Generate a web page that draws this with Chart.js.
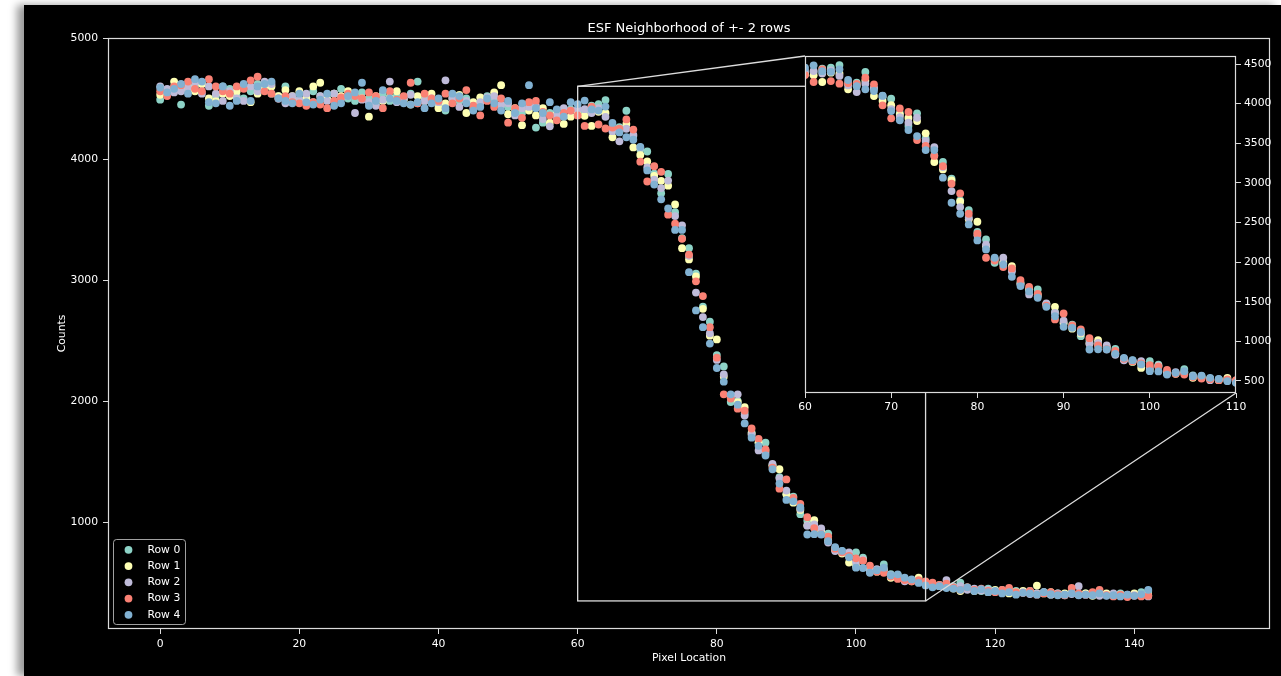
<!DOCTYPE html>
<html>
<head>
<meta charset="utf-8">
<title>ESF Neighborhood</title>
<script src="https://cdn.jsdelivr.net/npm/chart.js@4.4.1/dist/chart.umd.min.js"></script>
<style>
  html, body { margin: 0; padding: 0; background: #fff; overflow: hidden; }
  #main { position: absolute; left: 24px; top: 5px; background: #000; box-shadow: -7px 0 8px rgba(0, 0, 0, 0.4); }
  #inset { position: absolute; left: 780px; top: 46px; }
</style>
</head>
<body>
<canvas id="main" width="1257" height="671"></canvas>
<canvas id="inset" width="500" height="376"></canvas>
<script>
// pixel index along the edge
const pixelLocation = [
  0, 1, 2, 3, 4, 5, 6, 7, 8, 9, 10, 11, 12, 13, 14, 15, 16, 17, 18, 19,
  20, 21, 22, 23, 24, 25, 26, 27, 28, 29, 30, 31, 32, 33, 34, 35, 36, 37, 38, 39,
  40, 41, 42, 43, 44, 45, 46, 47, 48, 49, 50, 51, 52, 53, 54, 55, 56, 57, 58, 59,
  60, 61, 62, 63, 64, 65, 66, 67, 68, 69, 70, 71, 72, 73, 74, 75, 76, 77, 78, 79,
  80, 81, 82, 83, 84, 85, 86, 87, 88, 89, 90, 91, 92, 93, 94, 95, 96, 97, 98, 99,
  100, 101, 102, 103, 104, 105, 106, 107, 108, 109, 110, 111, 112, 113, 114, 115, 116, 117, 118, 119,
  120, 121, 122, 123, 124, 125, 126, 127, 128, 129, 130, 131, 132, 133, 134, 135, 136, 137, 138, 139,
  140, 141, 142
];

// counts per row
const row0 = [
  4490, 4560, 4600, 4450, 4560, 4600, 4620, 4440, 4520, 4600,
  4580, 4520, 4500, 4560, 4620, 4580, 4540, 4520, 4600, 4500,
  4480, 4510, 4560, 4520, 4500, 4540, 4580, 4500, 4480, 4550,
  4500, 4450, 4540, 4480, 4520, 4490, 4540, 4640, 4510, 4470,
  4440, 4400, 4520, 4480, 4500, 4450, 4470, 4520, 4490, 4440,
  4430, 4400, 4380, 4460, 4260, 4300, 4380, 4330, 4360, 4410,
  4380, 4400, 4440, 4454, 4487, 4250, 4264, 4399, 4190, 4080,
  4062, 3880, 3717, 3877, 3560, 3345, 3263, 3052, 2780, 2656,
  2380, 2286, 1991, 2000, 1900, 1740, 1650, 1655, 1470, 1370,
  1230, 1210, 1065, 1010, 950, 930, 905, 780, 760, 720,
  750, 705, 610, 600, 650, 570, 560, 530, 520, 520,
  490, 470, 480, 460, 470, 500, 450, 440, 430, 450,
  430, 440, 420, 430, 415, 430, 410, 420, 400, 410,
  395, 420, 400, 410, 395, 405, 400, 390, 410, 395,
  400, 420, 430
];
const row1 = [
  4530, 4560, 4640, 4580, 4600, 4560, 4620, 4500, 4480, 4540,
  4520, 4560, 4600, 4470, 4540, 4580, 4600, 4520, 4570, 4520,
  4560, 4500, 4600, 4630, 4490, 4540, 4520, 4560, 4540, 4500,
  4350, 4520, 4480, 4510, 4560, 4490, 4450, 4520, 4480, 4540,
  4420, 4460, 4500, 4530, 4380, 4470, 4510, 4490, 4550, 4610,
  4370, 4420, 4280, 4400, 4360, 4420, 4300, 4380, 4290, 4350,
  4370, 4357, 4273, 4390, 4380, 4180, 4230, 4290, 4096, 4033,
  3980, 3860, 3820, 3780, 3625, 3263, 3170, 3030, 2762, 2540,
  2509, 2200, 2040, 1990, 1949, 1730, 1660, 1590, 1470, 1436,
  1230, 1160, 1100, 973, 1015, 920, 850, 770, 740, 665,
  640, 690, 600, 590, 610, 539, 540, 530, 510, 540,
  500, 490, 470, 480, 450, 430, 460, 430, 440, 420,
  440, 430, 410, 420, 430, 420, 475, 410, 420, 400,
  410, 415, 400, 410, 390, 400, 410, 395, 400, 390,
  410, 400, 395
];
const row2 = [
  4600, 4580, 4550, 4560, 4590, 4630, 4540, 4600, 4540, 4480,
  4560, 4500, 4480, 4600, 4560, 4640, 4620, 4500, 4460, 4520,
  4490, 4540, 4470, 4520, 4480, 4540, 4500, 4520, 4380, 4490,
  4470, 4440, 4490, 4640, 4470, 4500, 4530, 4460, 4480, 4500,
  4470, 4650, 4500, 4430, 4480, 4420, 4470, 4510, 4520, 4450,
  4460, 4360, 4420, 4430, 4440, 4330, 4270, 4360, 4420, 4400,
  4412, 4412, 4380, 4420, 4349, 4230, 4146, 4250, 4200, 4096,
  3930, 3830, 3760, 3822, 3528, 3452, 3200, 2896, 2694, 2560,
  2340, 2220, 2030, 2055, 1880, 1720, 1592, 1570, 1480, 1360,
  1260, 1180, 1110, 970, 980, 948, 830, 760, 750, 750,
  670, 690, 590, 610, 600, 560, 550, 510, 520, 510,
  490, 480, 470, 520, 460, 470, 440, 450, 435, 440,
  425, 420, 440, 410, 420, 405, 410, 420, 400, 410,
  400, 405, 470, 400, 405, 390, 395, 410, 390, 400,
  395, 390, 385
];
const row3 = [
  4560, 4520, 4600, 4610, 4640, 4580, 4560, 4660, 4600, 4560,
  4540, 4600, 4580, 4650, 4680, 4560, 4540, 4500, 4520, 4470,
  4460, 4440, 4470, 4450, 4420, 4480, 4510, 4540, 4520, 4500,
  4550, 4520, 4420, 4560, 4490, 4520, 4630, 4460, 4540, 4500,
  4480, 4540, 4460, 4500, 4570, 4440, 4360, 4480, 4430, 4500,
  4300, 4420, 4340, 4470, 4480, 4390, 4360, 4320, 4380, 4400,
  4360, 4273, 4433, 4285, 4252, 4260, 4250, 4327, 4243, 3978,
  3814, 3940, 3894, 3540, 3465, 3340, 3210, 2989, 2867, 2610,
  2358, 2055, 2020, 1937, 1920, 1773, 1688, 1600, 1450, 1276,
  1352, 1200, 1150, 1040, 950, 900, 880, 780, 750, 720,
  700, 680, 640, 590, 580, 550, 530, 520, 510, 520,
  510, 500, 480, 490, 460, 440, 460, 440, 450, 430,
  420, 440, 455, 420, 415, 430, 400, 410, 420, 405,
  395, 455, 410, 400, 420, 440, 395, 385, 400, 380,
  390, 385, 390
];
const row4 = [
  4590, 4550, 4580, 4620, 4540, 4660, 4640, 4470, 4460, 4600,
  4440, 4480, 4620, 4480, 4600, 4620, 4640, 4500, 4480, 4460,
  4540, 4470, 4450, 4490, 4540, 4440, 4460, 4520, 4550, 4630,
  4440, 4480, 4570, 4500, 4480, 4460, 4450, 4470, 4420, 4460,
  4500, 4420, 4540, 4520, 4460, 4400, 4430, 4500, 4460, 4400,
  4480, 4380, 4460, 4610, 4420, 4380, 4470, 4410, 4350, 4470,
  4454, 4483, 4410, 4400, 4433, 4298, 4220, 4180, 4159, 4100,
  3906, 3789, 3667, 3591, 3414, 3414, 3065, 2749, 2610, 2475,
  2273, 2160, 2055, 1970, 1815, 1697, 1630, 1550, 1436, 1318,
  1183, 1171, 1120, 897, 900, 897, 842, 792, 762, 708,
  623, 620, 581, 602, 623, 560, 568, 540, 526, 497,
  476, 460, 470, 455, 450, 440, 460, 430, 445, 420,
  430, 410, 420, 400, 415, 410, 400, 420, 405, 395,
  400, 410, 395, 400, 395, 410, 390, 395, 385, 400,
  390, 405, 440
];

const rows = [row0, row1, row2, row3, row4];
const rowLabels = ['Row 0', 'Row 1', 'Row 2', 'Row 3', 'Row 4'];
const rowColors = ['#8dd3c7', '#feffb3', '#bfbbd9', '#fa8174', '#81b1d2'];

// axis limits and ticks
const mainX = [-7.5, 159.5];
const mainY = [116, 5000];
const mainXTicks = [0, 20, 40, 60, 80, 100, 120, 140];
const mainYTicks = [1000, 2000, 3000, 4000, 5000];
const zoomX = [60, 110];
const zoomY = [348, 4601];
const zoomXTicks = [60, 70, 80, 90, 100, 110];
const zoomYTicks = [500, 1000, 1500, 2000, 2500, 3000, 3500, 4000, 4500];

const chartTitle = 'ESF Neighborhood of +- 2 rows';
const xTitle = 'Pixel Location';
const yTitle = 'Counts';

const fontSize = 10.8;
Chart.defaults.font.family = '"DejaVu Sans", sans-serif';
Chart.defaults.font.size = fontSize;
Chart.defaults.color = '#ffffff';

const spineColor = '#dcdcdc';
const markerRadius = 3.9;

function makeDatasets(clip) {
  return rows.map((vals, i) => ({
    label: rowLabels[i],
    data: pixelLocation.map((x, j) => ({ x: x, y: vals[j] })),
    backgroundColor: rowColors[i],
    borderWidth: 0,
    pointRadius: markerRadius,
    pointHoverRadius: markerRadius,
    order: rows.length - i, // later rows end up on top
    clip: clip
  }));
}

function makeAxis(range, tickValues, position, size, pad, title) {
  const isX = position === 'bottom';
  return {
    type: 'linear',
    position: position,
    min: range[0],
    max: range[1],
    afterBuildTicks: s => { s.ticks = tickValues.map(v => ({ value: v })); },
    afterFit: s => { if (isX) s.height = size; else s.width = size; },
    grid: { display: true, drawOnChartArea: false, drawTicks: true, tickLength: 5, tickColor: spineColor, color: spineColor },
    border: { display: false },
    ticks: { color: '#ffffff', padding: pad, maxRotation: 0, autoSkip: false, callback: v => String(v) },
    title: title
  };
}

// black face + full box of spines
const framePlugin = {
  id: 'frame',
  beforeDraw(chart, args, opts) {
    if (!opts.face) return;
    const a = chart.chartArea;
    chart.ctx.save();
    chart.ctx.fillStyle = opts.face;
    chart.ctx.fillRect(a.left, a.top, a.right - a.left, a.bottom - a.top);
    chart.ctx.restore();
  },
  afterDraw(chart) {
    const a = chart.chartArea;
    const ctx = chart.ctx;
    ctx.save();
    ctx.strokeStyle = spineColor;
    ctx.lineWidth = 1.2;
    ctx.strokeRect(Math.round(a.left) + 0.5, Math.round(a.top) + 0.5,
      Math.round(a.right - a.left) - 1, Math.round(a.bottom - a.top) - 1);
    ctx.restore();
  }
};

// zoomed view
const insetCanvas = document.getElementById('inset');
const insetChart = new Chart(insetCanvas, {
  type: 'scatter',
  data: { datasets: makeDatasets(0) },
  options: {
    responsive: false,
    animation: false,
    events: [],
    layout: { padding: { left: 25, top: 10, right: 0, bottom: 0 } },
    scales: {
      x: makeAxis(zoomX, zoomXTicks, 'bottom', 29, 2.5, { display: false }),
      y: makeAxis(zoomY, zoomYTicks, 'right', 44, 3, { display: false })
    },
    plugins: {
      legend: { display: false },
      tooltip: { enabled: false },
      frame: { face: '#000000' }
    }
  },
  plugins: [framePlugin]
});

const mainCanvas = document.getElementById('main');

// outline of the zoomed region plus the two connector lines
const zoomBoxPlugin = {
  id: 'zoomBox',
  afterDatasetsDraw(chart) {
    const { x, y } = chart.scales;
    const ctx = chart.ctx;
    const l = x.getPixelForValue(zoomX[0]);
    const r = x.getPixelForValue(zoomX[1]);
    const t = y.getPixelForValue(zoomY[1]);
    const b = y.getPixelForValue(zoomY[0]);
    const dx = insetCanvas.offsetLeft - mainCanvas.offsetLeft;
    const dy = insetCanvas.offsetTop - mainCanvas.offsetTop;
    const ia = insetChart.chartArea;
    ctx.save();
    ctx.strokeStyle = spineColor;
    ctx.lineWidth = 1.3;
    ctx.strokeRect(l, t, r - l, b - t);
    ctx.beginPath();
    ctx.moveTo(l, t);
    ctx.lineTo(ia.left + dx, ia.top + dy);
    ctx.moveTo(r, b);
    ctx.lineTo(ia.right + dx, ia.bottom + dy);
    ctx.stroke();
    ctx.restore();
  }
};

// legend box in the lower-left corner
const cornerLegend = {
  id: 'cornerLegend',
  afterDraw(chart) {
    const a = chart.chartArea;
    const ctx = chart.ctx;
    const w = 72, h = 85, rowH = 16.25;
    const bx = a.left + 5.5, by = a.bottom - 4.5 - h;
    ctx.save();
    ctx.beginPath();
    ctx.roundRect(bx, by, w, h, 3);
    ctx.fillStyle = 'rgba(0, 0, 0, 0.8)';
    ctx.fill();
    ctx.strokeStyle = 'rgba(200, 200, 200, 0.8)';
    ctx.lineWidth = 1;
    ctx.stroke();
    ctx.font = fontSize + 'px "DejaVu Sans", sans-serif';
    ctx.textBaseline = 'middle';
    ctx.textAlign = 'left';
    rowLabels.forEach((label, i) => {
      const cy = by + 10.3 + i * rowH;
      ctx.beginPath();
      ctx.arc(bx + 15, cy, markerRadius, 0, Math.PI * 2);
      ctx.fillStyle = rowColors[i];
      ctx.fill();
      ctx.fillStyle = '#ffffff';
      ctx.fillText(label, bx + 34, cy);
    });
    ctx.restore();
  }
};

const mainChart = new Chart(mainCanvas, {
  type: 'scatter',
  data: { datasets: makeDatasets(undefined) },
  options: {
    responsive: false,
    animation: false,
    events: [],
    layout: { padding: { left: 0, top: 0, right: 11, bottom: 0 } },
    scales: {
      x: makeAxis(mainX, mainXTicks, 'bottom', 47, 4,
        { display: true, text: xTitle, color: '#ffffff', font: { size: fontSize }, padding: { top: 0, bottom: 11.5 } }),
      y: makeAxis(mainY, mainYTicks, 'left', 84, 5,
        { display: true, text: yTitle, color: '#ffffff', font: { size: fontSize }, padding: { top: 31.5, bottom: 0 } })
    },
    plugins: {
      legend: { display: false },
      tooltip: { enabled: false },
      title: {
        display: true,
        text: chartTitle,
        color: '#ffffff',
        fullSize: false,
        font: { size: 13, weight: 'normal' },
        padding: { top: 16.2, bottom: 1.2 }
      },
      frame: {}
    }
  },
  plugins: [framePlugin, zoomBoxPlugin, cornerLegend]
});
</script>
</body>
</html>
